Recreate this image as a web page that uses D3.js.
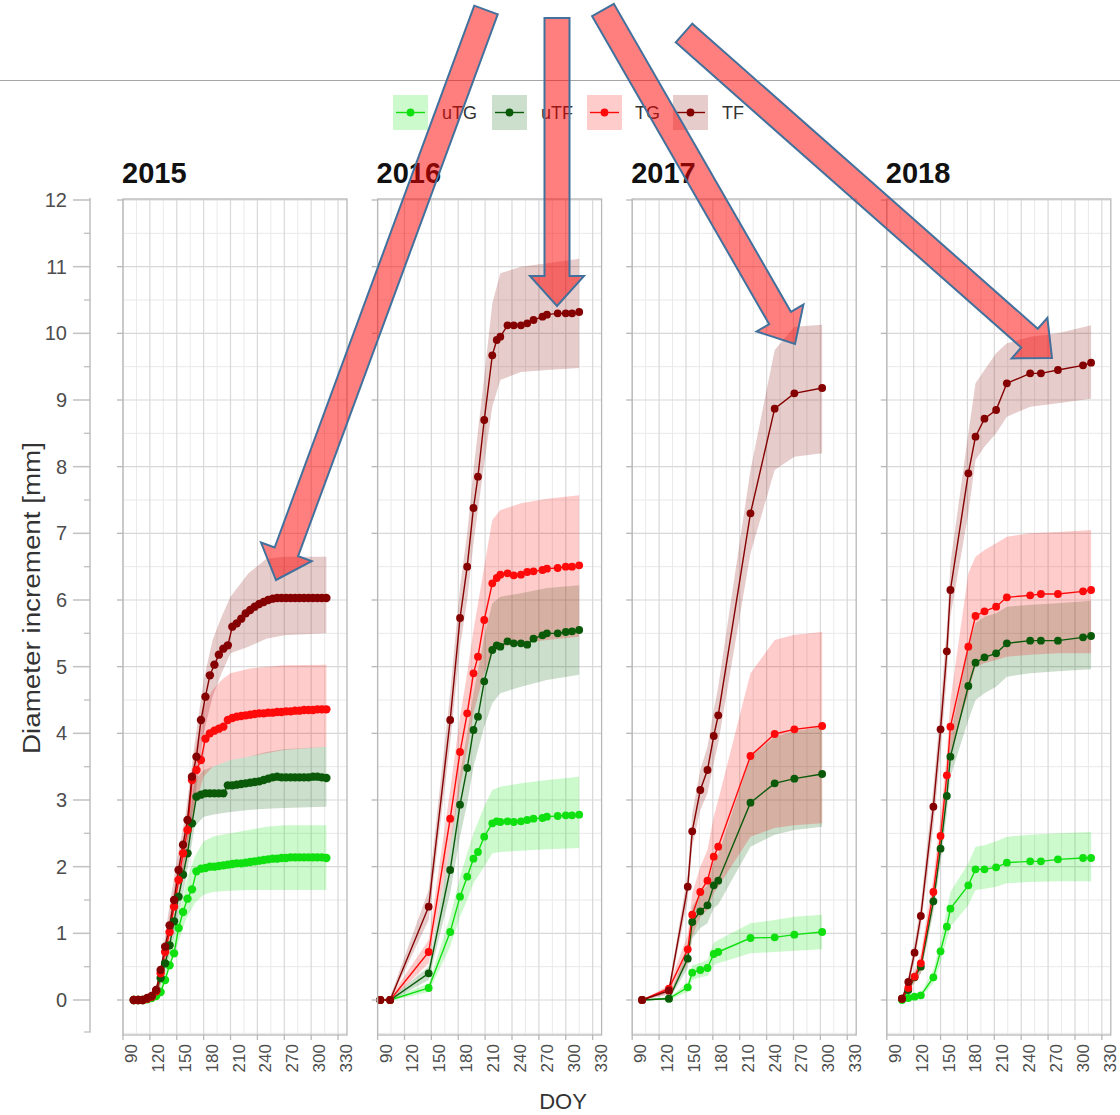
<!DOCTYPE html>
<html><head><meta charset="utf-8">
<script src="https://cdn.jsdelivr.net/npm/d3@7"></script>
<style>body{margin:0;background:#fff;} text{font-family:"Liberation Sans",Arial,sans-serif;}</style>
</head><body><svg id="c" width="1120" height="1115"></svg>
<script>
const years = ["2015","2016","2017","2018"];
const groups = ["uTG","uTF","TG","TF"];
const xTicks = [90,120,150,180,210,240,270,300,330];
const yTicks = [0,1,2,3,4,5,6,7,8,9,10,11,12];

// ---- 2015 ----
const doy2015 = [102,107,112,117,122,127,132,137,142,147,152,157,162,167,172,177,182,187,192,197,202,207,212,217,222,227,232,237,242,247,252,257,262,267,272,277,282,287,292,297,302,307,312,317];
const uTG2015 = [0,0,0,0.01,0.03,0.06,0.12,0.3,0.52,0.7,1.08,1.32,1.52,1.66,1.93,1.97,1.98,2.0,2.0,2.01,2.02,2.03,2.04,2.05,2.05,2.06,2.07,2.08,2.09,2.1,2.11,2.12,2.12,2.13,2.13,2.14,2.14,2.14,2.14,2.14,2.14,2.14,2.14,2.13];
const uTF2015 = [0,0,0,0.02,0.05,0.13,0.33,0.55,0.82,1.18,1.55,1.88,2.2,2.65,3.05,3.08,3.1,3.1,3.1,3.1,3.1,3.22,3.22,3.23,3.24,3.25,3.26,3.27,3.28,3.3,3.32,3.34,3.35,3.34,3.34,3.34,3.34,3.34,3.34,3.34,3.35,3.35,3.34,3.33];
const TG2015 = [0,0,0,0.02,0.05,0.13,0.4,0.72,1.02,1.4,1.8,2.2,2.55,3.3,3.45,3.6,3.92,4.0,4.04,4.07,4.1,4.2,4.23,4.25,4.26,4.27,4.28,4.29,4.3,4.3,4.31,4.31,4.32,4.32,4.33,4.33,4.34,4.34,4.35,4.35,4.35,4.36,4.36,4.36];
const TF2015 = [0,0,0,0.03,0.06,0.15,0.45,0.8,1.12,1.5,1.95,2.33,2.7,3.35,3.65,4.2,4.55,4.87,5.03,5.18,5.27,5.32,5.6,5.65,5.72,5.8,5.85,5.9,5.94,5.97,6.0,6.02,6.03,6.03,6.03,6.03,6.03,6.03,6.03,6.03,6.03,6.03,6.03,6.03];
const band2015 = [102,120,130,140,150,160,170,180,190,200,210,230,250,270,317];
const uTG2015lo = [0,0,0.05,0.4,0.8,1.2,1.45,1.58,1.62,1.63,1.64,1.65,1.65,1.65,1.65];
const uTG2015hi = [0,0.02,0.12,0.65,1.1,1.75,2.15,2.38,2.45,2.48,2.5,2.55,2.6,2.62,2.62];
const uTF2015lo = [0,0.01,0.15,0.6,1.1,1.8,2.6,2.75,2.78,2.8,2.82,2.85,2.87,2.88,2.9];
const uTF2015hi = [0,0.03,0.25,0.8,1.45,2.3,3.3,3.45,3.5,3.55,3.6,3.65,3.72,3.76,3.8];
const TG2015lo = [0,0.02,0.1,0.75,1.4,2.0,2.9,3.35,3.5,3.55,3.6,3.65,3.7,3.75,3.8];
const TG2015hi = [0,0.04,0.25,1.1,1.9,2.65,3.7,4.4,4.65,4.8,4.9,4.97,5.0,5.02,5.03];
const TF2015lo = [0,0.02,0.12,0.85,1.55,2.2,3.0,4.0,4.55,4.9,5.2,5.3,5.42,5.47,5.5];
const TF2015hi = [0,0.05,0.3,1.25,2.1,2.8,3.85,4.8,5.4,5.75,6.05,6.4,6.62,6.65,6.65];

// ---- 2016 ----
const doy2016 = [93,104,147,171,182,190,197,202,209,218,223,227,235,242,250,257,264,274,279,291,300,307,315];
const uTG2016 = [0,0,0.18,1.02,1.55,1.85,2.12,2.22,2.45,2.65,2.68,2.67,2.68,2.67,2.68,2.7,2.72,2.73,2.75,2.76,2.77,2.77,2.78];
const uTF2016 = [0,0,0.4,1.95,2.93,3.48,4.05,4.25,4.78,5.25,5.32,5.3,5.38,5.35,5.35,5.33,5.42,5.47,5.5,5.5,5.52,5.53,5.55];
const TG2016 = [0,0,0.72,2.72,3.72,4.3,4.9,5.15,5.7,6.25,6.33,6.38,6.4,6.37,6.38,6.42,6.43,6.45,6.47,6.48,6.5,6.5,6.52];
const TF2016 = [0,0,1.4,4.2,5.73,6.5,7.38,7.85,8.7,9.67,9.9,9.95,10.12,10.12,10.12,10.15,10.2,10.25,10.28,10.3,10.3,10.3,10.32];
const band2016 = [93,104,147,171,182,190,197,209,218,227,250,279,315];
const uTG2016lo = [0,-0.01,0.12,0.8,1.25,1.5,1.75,2.0,2.2,2.22,2.24,2.26,2.28];
const uTG2016hi = [0,0.02,0.25,1.25,1.85,2.2,2.5,2.9,3.15,3.2,3.25,3.3,3.35];
const uTF2016lo = [0,-0.02,0.3,1.6,2.45,2.95,3.5,4.1,4.45,4.6,4.7,4.8,4.88];
const uTF2016hi = [0,0.03,0.5,2.3,3.4,4.0,4.6,5.45,5.95,6.05,6.1,6.18,6.22];
const TG2016lo = [0,-0.02,0.55,2.3,3.2,3.75,4.3,4.9,5.2,5.3,5.35,5.4,5.45];
const TG2016hi = [0,0.04,0.9,3.15,4.25,4.9,5.55,6.5,7.2,7.35,7.45,7.52,7.57];
const TF2016lo = [0,-0.02,1.2,3.85,5.3,6.0,6.85,8.05,8.9,9.3,9.42,9.45,9.48];
const TF2016hi = [0,0.05,1.65,4.6,6.2,7.0,7.95,9.35,10.45,10.9,11.0,11.05,11.12];

// ---- 2017 ----
const doy2017 = [101,131,152,157,166,174,181,186,222,249,271,302];
const uTG2017 = [0,0.02,0.19,0.41,0.45,0.48,0.69,0.72,0.93,0.94,0.98,1.02];
const uTF2017 = [0,0.02,0.62,1.17,1.33,1.42,1.72,1.79,2.96,3.25,3.32,3.39];
const TG2017 = [0,0.17,0.76,1.28,1.62,1.79,2.15,2.3,3.66,3.99,4.06,4.11];
const TF2017 = [0,0.14,1.7,2.53,3.15,3.45,3.96,4.27,7.3,8.87,9.1,9.18];
const band2017 = doy2017;
const uTG2017lo = [0,0,0.12,0.3,0.34,0.36,0.52,0.55,0.7,0.72,0.74,0.76];
const uTG2017hi = [0,0.04,0.26,0.52,0.56,0.6,0.86,0.9,1.15,1.2,1.25,1.28];
const uTF2017lo = [0,0,0.48,0.92,1.08,1.15,1.38,1.43,2.3,2.48,2.55,2.6];
const uTF2017hi = [0,0.05,0.76,1.4,1.6,1.72,2.08,2.18,3.65,3.95,4.03,4.1];
const TG2017lo = [0,0.1,0.55,0.95,1.25,1.35,1.6,1.7,2.45,2.58,2.62,2.65];
const TG2017hi = [0,0.22,0.98,1.6,2.0,2.25,2.75,3.0,4.9,5.4,5.48,5.52];
const TF2017lo = [0,0.08,1.5,2.3,2.85,3.1,3.55,3.85,6.7,7.95,8.15,8.2];
const TF2017hi = [0,0.2,1.9,2.8,3.45,3.8,4.35,4.7,7.95,9.75,10.1,10.13];

// ---- 2018 ----
const doy2018 = [107,114,121,128,142,150,157,161,181,189,199,212,224,250,262,281,309,318];
const uTG2018 = [0,0.03,0.05,0.07,0.34,0.73,1.1,1.37,1.72,1.96,1.96,1.99,2.06,2.08,2.08,2.11,2.13,2.13];
const uTF2018 = [0.02,0.15,0.34,0.5,1.48,2.27,3.06,3.65,4.71,5.06,5.14,5.2,5.35,5.39,5.39,5.39,5.44,5.46];
const TG2018 = [0.02,0.18,0.35,0.55,1.62,2.46,3.37,4.1,5.3,5.76,5.83,5.9,6.04,6.07,6.09,6.09,6.13,6.15];
const TF2018 = [0.02,0.27,0.71,1.26,2.9,4.06,5.23,6.15,7.9,8.45,8.72,8.85,9.25,9.4,9.4,9.45,9.52,9.56];
const band2018 = [107,114,121,128,142,150,157,161,181,189,199,212,224,250,281,318];
const uTG2018lo = [0,0.02,0.03,0.04,0.25,0.55,0.9,1.1,1.42,1.65,1.67,1.7,1.75,1.77,1.78,1.78];
const uTG2018hi = [0,0.05,0.08,0.1,0.45,0.9,1.35,1.62,2.05,2.3,2.32,2.38,2.45,2.48,2.5,2.52];
const uTF2018lo = [0,0.12,0.28,0.4,1.3,2.05,2.8,3.35,4.2,4.5,4.6,4.7,4.85,4.9,4.93,4.96];
const uTF2018hi = [0.02,0.18,0.4,0.6,1.65,2.5,3.35,3.95,5.3,5.65,5.75,5.8,5.9,5.93,5.95,5.99];
const TG2018lo = [0,0.14,0.25,0.4,1.4,2.2,3.05,3.7,4.6,5.0,5.05,5.1,5.15,5.18,5.2,5.2];
const TG2018hi = [0.03,0.22,0.45,0.7,1.85,2.75,3.7,4.5,6.4,6.65,6.75,6.85,6.95,7.0,7.02,7.05];
const TF2018lo = [0,0.2,0.6,1.1,2.6,3.7,4.85,5.75,7.3,8.1,8.3,8.5,8.75,8.9,8.95,9.02];
const TF2018hi = [0.05,0.35,0.85,1.45,3.2,4.4,5.6,6.55,8.5,9.25,9.45,9.7,9.85,9.95,10.0,10.12];

const panels = [
  {year:"2015", doy:doy2015, band:band2015, mean:{uTG:uTG2015,uTF:uTF2015,TG:TG2015,TF:TF2015}, lo:{uTG:uTG2015lo,uTF:uTF2015lo,TG:TG2015lo,TF:TF2015lo}, hi:{uTG:uTG2015hi,uTF:uTF2015hi,TG:TG2015hi,TF:TF2015hi}},
  {year:"2016", doy:doy2016, band:band2016, mean:{uTG:uTG2016,uTF:uTF2016,TG:TG2016,TF:TF2016}, lo:{uTG:uTG2016lo,uTF:uTF2016lo,TG:TG2016lo,TF:TF2016lo}, hi:{uTG:uTG2016hi,uTF:uTF2016hi,TG:TG2016hi,TF:TF2016hi}},
  {year:"2017", doy:doy2017, band:band2017, mean:{uTG:uTG2017,uTF:uTF2017,TG:TG2017,TF:TF2017}, lo:{uTG:uTG2017lo,uTF:uTF2017lo,TG:TG2017lo,TF:TF2017lo}, hi:{uTG:uTG2017hi,uTF:uTF2017hi,TG:TG2017hi,TF:TF2017hi}},
  {year:"2018", doy:doy2018, band:band2018, mean:{uTG:uTG2018,uTF:uTF2018,TG:TG2018,TF:TF2018}, lo:{uTG:uTG2018lo,uTF:uTF2018lo,TG:TG2018lo,TF:TF2018lo}, hi:{uTG:uTG2018hi,uTF:uTF2018hi,TG:TG2018hi,TF:TF2018hi}}
];

const lineColor = {uTG:"#10e010", uTF:"#0a5a0a", TG:"#ff0a0a", TF:"#850000"};
const fillColor = {uTG:"rgba(0,230,0,0.2)", uTF:"rgba(0,90,0,0.2)", TG:"rgba(255,0,0,0.2)", TF:"rgba(133,0,0,0.2)"};

const svg = d3.select("#c");
svg.append("rect").attr("width",1120).attr("height",1115).attr("fill","#fff");

// slide separator line
svg.append("line").attr("x1",0).attr("x2",1120).attr("y1",80.5).attr("y2",80.5).attr("stroke","#a6a6a6").attr("stroke-width",1.2);

const panelW = 224, panelStep = 254.6, firstLeft = 123;
const y = d3.scaleLinear().domain([0,12]).range([1000,200]);
const yMin = -0.525, yMax = 12.015;
const gridGray = "#d8d8d8", minorGray = "#e9e9e9", borderGray = "#b8b8b8", textGray = "#4d4d4d";

// outer y axis
const oy = svg.append("g");
oy.append("line").attr("x1",90).attr("x2",90).attr("y1",y(12)-2).attr("y2",y(-0.48)).attr("stroke","#c4c4c4").attr("stroke-width",1.6);
oy.selectAll(".maj").data(yTicks).join("line").attr("x1",73).attr("x2",91).attr("y1",d=>y(d)).attr("y2",d=>y(d)).attr("stroke","#c4c4c4").attr("stroke-width",1.6);
oy.selectAll(".min").data(d3.range(0,12,1).map(d=>d+0.5).concat([-0.48])).join("line").attr("x1",84).attr("x2",91).attr("y1",d=>y(d)).attr("y2",d=>y(d)).attr("stroke","#c4c4c4").attr("stroke-width",1.4);
oy.selectAll("text").data(yTicks).join("text").attr("x",67).attr("y",d=>y(d)+7).attr("text-anchor","end").attr("font-size",20).attr("fill",textGray).text(d=>d);

panels.forEach((p,i)=>{
  const left = firstLeft + i*panelStep;
  const x = d3.scaleLinear().domain([90,340]).range([left,left+panelW]);
  const g = svg.append("g");
  const top = y(yMax), bot = y(yMin);
  g.append("rect").attr("x",left).attr("y",top).attr("width",panelW).attr("height",bot-top).attr("fill","#fff");
  // minor grid
  const xMinor = d3.range(105,340,30);
  g.selectAll(".vmin").data(xMinor).join("line").attr("x1",d=>x(d)).attr("x2",d=>x(d)).attr("y1",top).attr("y2",bot).attr("stroke",minorGray).attr("stroke-width",1);
  const yMinor = d3.range(-0.5,12.01,1);
  g.selectAll(".hmin").data(yMinor).join("line").attr("x1",left).attr("x2",left+panelW).attr("y1",d=>y(d)).attr("y2",d=>y(d)).attr("stroke",minorGray).attr("stroke-width",1);
  // major grid
  g.selectAll(".vmaj").data(xTicks).join("line").attr("x1",d=>x(d)).attr("x2",d=>x(d)).attr("y1",top).attr("y2",bot).attr("stroke",gridGray).attr("stroke-width",1.2);
  g.selectAll(".hmaj").data(yTicks).join("line").attr("x1",left).attr("x2",left+panelW).attr("y1",d=>y(d)).attr("y2",d=>y(d)).attr("stroke",gridGray).attr("stroke-width",1.2);

  // ribbons
  groups.forEach(k=>{
    const pts = p.band.map((d,j)=>({x:d, lo:p.lo[k][j], hi:p.hi[k][j]}));
    g.append("path").datum(pts).attr("fill",fillColor[k]).attr("stroke","none")
      .attr("d", d3.area().x(d=>x(d.x)).y0(d=>y(d.lo)).y1(d=>y(d.hi)));
  });
  // lines
  groups.forEach(k=>{
    const pts = p.doy.map((d,j)=>({x:d, v:p.mean[k][j]}));
    g.append("path").datum(pts).attr("fill","none").attr("stroke",lineColor[k]).attr("stroke-width",1.4)
      .attr("d", d3.line().x(d=>x(d.x)).y(d=>y(d.v)));
  });
  // points
  groups.forEach(k=>{
    const pts = p.doy.map((d,j)=>({x:d, v:p.mean[k][j]}));
    g.selectAll(".pt"+k).data(pts).join("circle").attr("cx",d=>x(d.x)).attr("cy",d=>y(d.v)).attr("r",i===0?4.2:3.9).attr("fill",lineColor[k]);
  });
  // border
  g.append("rect").attr("x",left).attr("y",top).attr("width",panelW).attr("height",bot-top).attr("fill","none").attr("stroke",borderGray).attr("stroke-width",1.3);
  // ticks
  g.selectAll(".xt").data(xTicks).join("line").attr("x1",d=>x(d)).attr("x2",d=>x(d)).attr("y1",bot).attr("y2",bot+5).attr("stroke",borderGray).attr("stroke-width",1.3);
  g.selectAll(".yt").data(yTicks).join("line").attr("x1",left-6).attr("x2",left).attr("y1",d=>y(d)).attr("y2",d=>y(d)).attr("stroke",borderGray).attr("stroke-width",1.3);
  // x tick labels rotated
  g.selectAll(".xl").data(xTicks).join("text")
    .attr("transform",d=>`translate(${x(d)+14},${bot+9}) rotate(-90)`)
    .attr("text-anchor","end").attr("font-size",17).attr("fill",textGray).text(d=>d);
  // title
  svg.append("text").attr("x",left-1).attr("y",183).attr("font-size",29).attr("font-weight","bold").attr("fill","#111").text(p.year);
});

// axis titles
svg.append("text").attr("transform","translate(40,598) rotate(-90)").attr("text-anchor","middle").attr("font-size",23)
  .attr("textLength",312).attr("lengthAdjust","spacingAndGlyphs").attr("fill","#333").text("Diameter increment [mm]");
svg.append("text").attr("x",563).attr("y",1109).attr("text-anchor","middle").attr("font-size",22).attr("fill","#333").text("DOY");

// legend
const legX = [393,492,587,673];
const legLabX = [442,541,635,722];
groups.forEach((k,i)=>{
  const lg = svg.append("g");
  lg.append("rect").attr("x",legX[i]).attr("y",95).attr("width",35).attr("height",35).attr("fill",fillColor[k]);
  lg.append("line").attr("x1",legX[i]+3).attr("x2",legX[i]+32).attr("y1",112.5).attr("y2",112.5).attr("stroke",lineColor[k]).attr("stroke-width",1.4);
  lg.append("circle").attr("cx",legX[i]+17.5).attr("cy",112.5).attr("r",3.9).attr("fill",lineColor[k]);
  lg.append("text").attr("x",legLabX[i]).attr("y",119).attr("font-size",18).attr("fill","#333").text(k);
});

// annotation arrows
const arrows = [
  {t:[486,10], p:[276,580]},
  {t:[557,18], p:[557,306]},
  {t:[603,10], p:[795,344]},
  {t:[684,33], p:[1052,358]}
];
const sw = 12.5, hw = 27, hl = 30;
arrows.forEach(a=>{
  const dx=a.p[0]-a.t[0], dy=a.p[1]-a.t[1], L=Math.hypot(dx,dy);
  const ux=dx/L, uy=dy/L, nx=-uy, ny=ux;
  const bx=a.p[0]-ux*hl, by=a.p[1]-uy*hl;
  const pts=[[a.t[0]+nx*sw,a.t[1]+ny*sw],[bx+nx*sw,by+ny*sw],[bx+nx*hw,by+ny*hw],[a.p[0],a.p[1]],[bx-nx*hw,by-ny*hw],[bx-nx*sw,by-ny*sw],[a.t[0]-nx*sw,a.t[1]-ny*sw]];
  svg.append("polygon").attr("points",pts.map(q=>q.join(",")).join(" "))
    .attr("fill","rgba(255,0,0,0.5)").attr("stroke","#41719c").attr("stroke-width",2).attr("stroke-linejoin","miter");
});
</script></body></html>
